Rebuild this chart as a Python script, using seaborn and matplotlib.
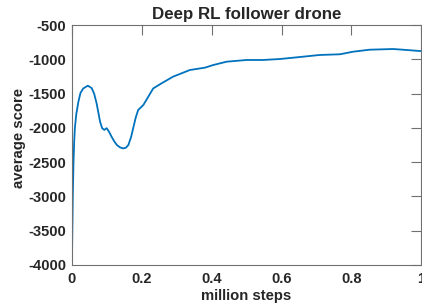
import numpy as np
import pandas as pd
import seaborn as sns
from matplotlib import pyplot as plt

# values
steps = [0.0, 0.001, 0.003, 0.005, 0.007, 0.009, 0.013, 0.019, 0.025, 0.033,
         0.046, 0.057, 0.064, 0.071, 0.077, 0.081, 0.087, 0.093, 0.100, 0.107,
         0.114, 0.122, 0.129, 0.138, 0.147, 0.155, 0.162, 0.170, 0.176, 0.183,
         0.190, 0.205, 0.219, 0.233, 0.257, 0.290, 0.338, 0.381, 0.405, 0.443,
         0.500, 0.547, 0.595, 0.652, 0.709, 0.767, 0.805, 0.852, 0.919, 0.947,
         0.995, 1.0]
score = [-3800, -3780, -3000, -2500, -2200, -2000, -1800, -1620, -1490, -1425,
         -1385, -1420, -1500, -1640, -1800, -1910, -2005, -2030, -2005, -2060,
         -2130, -2200, -2250, -2285, -2300, -2290, -2250, -2130, -2000, -1850,
         -1740, -1665, -1545, -1425, -1350, -1253, -1156, -1122, -1083, -1035,
         -1010, -1010, -996, -967, -937, -927, -889, -860, -850, -860,
         -879, -880]
xticks = [0, 0.2, 0.4, 0.6, 0.8, 1]
xticklabels = ['0', '0.2', '0.4', '0.6', '0.8', '1']
yticks = [-4000, -3500, -3000, -2500, -2000, -1500, -1000, -500]

df = pd.DataFrame({'million steps': steps, 'average score': score})

sns.set_style("white")
plt.rcParams['font.family'] = ['Liberation Sans', 'DejaVu Sans']
plt.rcParams['font.weight'] = 'bold'
plt.rcParams['axes.unicode_minus'] = False

fig = plt.figure(figsize=(4.22, 3.07), dpi=100)
ax = fig.add_axes([0.170, 0.137, 0.8285, 0.7815])

sns.lineplot(x='million steps', y='average score', data=df, ax=ax,
             color='#0072BD', linewidth=1.3, estimator=None, sort=False)

ax.set_xlim(0, 1)
ax.set_ylim(-4000, -500)
ax.set_xticks(xticks)
ax.set_xticklabels(xticklabels)
ax.set_yticks(yticks)
ax.tick_params(direction='in', length=7, width=0.8, color='#707070',
               labelsize=10.5, labelcolor='#262626', top=True, right=True,
               labeltop=False, labelright=False)
ax.tick_params(axis='x', pad=5)
ax.tick_params(axis='y', pad=4)
for lab in ax.get_xticklabels() + ax.get_yticklabels():
    lab.set_fontweight('bold')
for sp in ax.spines.values():
    sp.set_color('#707070')
    sp.set_linewidth(0.8)

ax.set_title('Deep RL follower drone', fontsize=12.2, fontweight='bold',
             color='#262626', pad=4)
ax.set_xlabel('million steps', fontsize=10.7, fontweight='bold',
              color='#262626', labelpad=2)
ax.set_ylabel('average score', fontsize=10.7, fontweight='bold',
              color='#262626')
ax.yaxis.set_label_coords(-0.13, 0.529)

fig.savefig('out.png', dpi=100)
